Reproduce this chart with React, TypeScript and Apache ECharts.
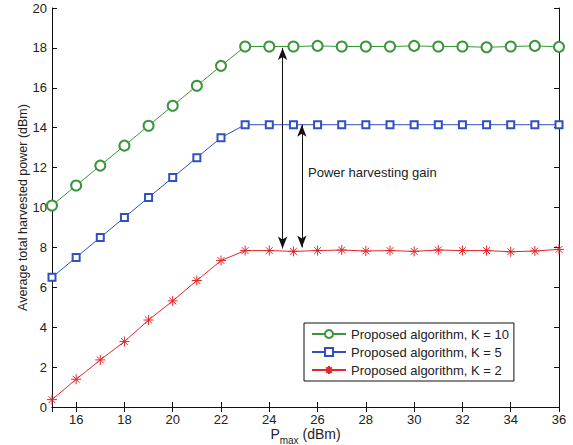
import React, { useEffect, useRef } from "react";
import * as echarts from "echarts";

const pmax = [15, 16, 17, 18, 19, 20, 21, 22, 23, 24, 25, 26, 27, 28, 29, 30, 31, 32, 33, 34, 35, 36];
const k10 = [10.1, 11.1, 12.1, 13.1, 14.1, 15.1, 16.1, 17.1, 18.07, 18.07, 18.07, 18.1, 18.07, 18.07, 18.07, 18.1, 18.07, 18.07, 18.03, 18.07, 18.1, 18.05];
const k5 = [6.5, 7.5, 8.5, 9.5, 10.5, 11.5, 12.5, 13.5, 14.15, 14.15, 14.15, 14.15, 14.15, 14.15, 14.15, 14.15, 14.15, 14.15, 14.15, 14.15, 14.15, 14.15];
const k2 = [0.37, 1.39, 2.36, 3.28, 4.36, 5.32, 6.34, 7.34, 7.84, 7.84, 7.8, 7.84, 7.87, 7.82, 7.84, 7.8, 7.87, 7.84, 7.84, 7.78, 7.82, 7.9];
const seriesNames = ["Proposed algorithm, K = 10", "Proposed algorithm, K = 5", "Proposed algorithm, K = 2"];
const arrowX = [24.55, 25.35];
const arrowTop = [18.0, 14.15];
const arrowBottom = [7.95, 8.0];
const annotation = "Power harvesting gain";

const FONT = "'Liberation Sans', Arial, Helvetica, sans-serif";
const GREEN = "#3a963a";
const BLUE = "#3050c0";
const RED = "#e4262a";
const STAR = "path://M5,0L5,10M0,5L10,5M1.6,1.6L8.4,8.4M1.6,8.4L8.4,1.6";

export default function App() {
  const ref = useRef<HTMLDivElement>(null);
  useEffect(() => {
    if (!ref.current) return;
    const chart = echarts.init(ref.current, undefined, { renderer: "svg" });
    const pair = (ys: number[]) => pmax.map((x, i) => [x, ys[i]]);
    const axisLine = { show: true, lineStyle: { color: "#111", width: 1 } };
    const tick = { show: true, inside: true, length: 5, lineStyle: { color: "#111" } };
    chart.setOption({
      animation: false,
      backgroundColor: "#fff",
      textStyle: { fontFamily: FONT },
      grid: { left: 52, right: 14, top: 8, bottom: 38, containLabel: false, outerBoundsMode: "none" },
      legend: {
        orient: "vertical",
        left: 304,
        top: 323,
        padding: [4, 5, 4, 7],
        itemWidth: 34,
        itemHeight: 10,
        itemGap: 4,
        borderColor: "#111",
        borderWidth: 1,
        backgroundColor: "#fff",
        borderRadius: 0,
        textStyle: { fontSize: 13, color: "#222", fontFamily: FONT, lineHeight: 14 },
        data: seriesNames,
      },
      xAxis: [
        {
          type: "value",
          min: 15,
          max: 36,
          minInterval: 2,
          maxInterval: 2,
          position: "bottom",
          axisLine,
          axisTick: tick,
          splitLine: { show: false },
          axisLabel: { showMinLabel: false, color: "#222", fontSize: 13, margin: 5, lineHeight: 14, fontFamily: FONT },
          name: "{a|P}{b|max}{a| (dBm)}",
          nameLocation: "middle",
          nameGap: 20,
          nameMoveOverlap: false,
          nameTextStyle: {
            fontFamily: FONT,
            rich: {
              a: { fontSize: 14, color: "#222", verticalAlign: "top", lineHeight: 14, fontFamily: FONT },
              b: { fontSize: 10, color: "#222", verticalAlign: "top", lineHeight: 10, padding: [8, 0, 0, 0], fontFamily: FONT },
            },
          },
        },
        {
          type: "value",
          min: 15,
          max: 36,
          minInterval: 2,
          maxInterval: 2,
          position: "top",
          axisLine,
          axisTick: tick,
          splitLine: { show: false },
          axisLabel: { show: false },
        },
      ],
      yAxis: [
        {
          type: "value",
          min: 0,
          max: 20,
          interval: 2,
          position: "left",
          axisLine,
          axisTick: tick,
          splitLine: { show: false },
          axisLabel: { color: "#222", fontSize: 13, margin: 5, fontFamily: FONT },
          name: "Average total harvested power (dBm)",
          nameLocation: "middle",
          nameGap: 23,
          nameMoveOverlap: false,
          nameTextStyle: { fontSize: 12.5, color: "#222", fontFamily: FONT },
        },
        {
          type: "value",
          min: 0,
          max: 20,
          interval: 2,
          position: "right",
          axisLine,
          axisTick: tick,
          splitLine: { show: false },
          axisLabel: { show: false },
        },
      ],
      graphic: [
        {
          type: "text",
          left: 308,
          top: 166,
          style: { text: annotation, fontSize: 13, fill: "#222", fontFamily: FONT },
        },
      ],
      series: [
        {
          name: seriesNames[0],
          type: "line",
          data: pair(k10),
          symbol: "emptyCircle",
          symbolSize: 10,
          lineStyle: { color: GREEN, width: 1 },
          itemStyle: { color: GREEN, borderWidth: 1 },
        },
        {
          name: seriesNames[1],
          type: "line",
          data: pair(k5),
          symbol: "emptyRect",
          symbolSize: 7,
          lineStyle: { color: BLUE, width: 1 },
          itemStyle: { color: BLUE, borderWidth: 1 },
        },
        {
          name: seriesNames[2],
          type: "line",
          data: pair(k2),
          symbol: STAR,
          symbolSize: 10,
          lineStyle: { color: RED, width: 1 },
          itemStyle: { color: RED, borderColor: RED, borderWidth: 1 },
          markLine: {
            silent: true,
            symbol: ["arrow", "arrow"],
            symbolSize: [7, 12],
            label: { show: false },
            lineStyle: { color: "#111", width: 1, type: "solid" },
            data: arrowX.map((x, i) => [
              { coord: [x, arrowTop[i]] },
              { coord: [x, arrowBottom[i]] },
            ]),
          },
        },
      ],
    });
    return () => chart.dispose();
  }, []);
  return <div ref={ref} style={{ width: 573, height: 445, position: "absolute", left: 0, top: 0 }} />;
}
